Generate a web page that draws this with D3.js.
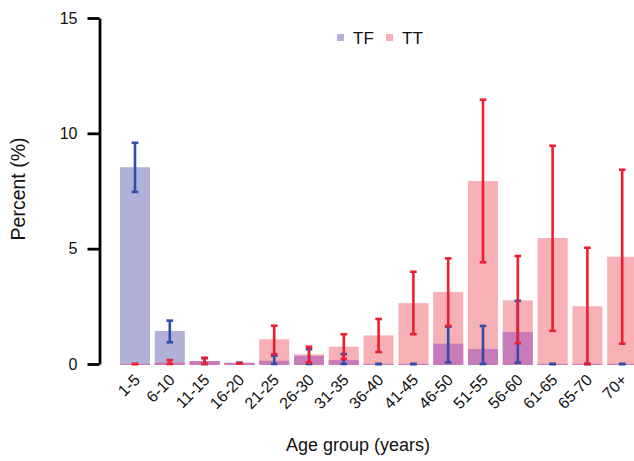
<!DOCTYPE html>
<html>
<head>
<meta charset="utf-8">
<script src="https://cdn.jsdelivr.net/npm/d3@7"></script>
<style>
  html, body { margin: 0; padding: 0; background: #fff; }
  svg { display: block; font-family: "Liberation Sans", Arial, sans-serif; }
</style>
</head>
<body>
<svg id="chart" width="634" height="461"></svg>
<script>
const categories = ["1-5","6-10","11-15","16-20","21-25","26-30","31-35","36-40","41-45","46-50","51-55","56-60","61-65","65-70","70+"];
const tfValues = [8.53, 1.43, 0.13, 0.05, 0.14, 0.35, 0.17, 0, 0, 0.88, 0.65, 1.39, 0, 0, 0];
const tfLower  = [7.46, 0.94, 0, 0.05, 0, 0, 0, 0, 0, 0.07, 0, 0.06, 0, 0, 0];
const tfUpper  = [9.59, 1.88, 0.25, 0.05, 0.36, 0.64, 0.43, 0, 0, 1.62, 1.65, 2.74, 0, 0, 0];
const ttValues = [0, 0.07, 0.13, 0.05, 1.07, 0.42, 0.75, 1.24, 2.64, 3.12, 7.93, 2.76, 5.46, 2.5, 4.65];
const ttLower  = [0, 0, 0, 0.03, 0.43, 0.07, 0.22, 0.52, 1.29, 1.65, 4.41, 0.9, 1.44, 0, 0.88];
const ttUpper  = [0, 0.17, 0.27, 0.03, 1.66, 0.75, 1.29, 1.95, 4.0, 4.58, 11.46, 4.68, 9.46, 5.04, 8.42];
const yTicks = [0, 5, 10, 15];
const seriesNames = ["TF", "TT"];

const colTF = "#b0b0d9", colTT = "#f7b0b5", colBoth = "#c77bb9";
const errTF = "#2f4ea6", errTT = "#ee1d2f";

const svg = d3.select("#chart");
const x = d3.scaleBand().domain(categories).range([117.6, 639.6]).paddingInner(0.138).paddingOuter(0.069);
const y = d3.scaleLinear().domain([0, 15]).range([364, 18]);

const rows = categories.map((c, i) => ({
  c, tf: tfValues[i], tt: ttValues[i],
  tfLo: tfLower[i], tfHi: tfUpper[i], ttLo: ttLower[i], ttHi: ttUpper[i]
}));

const bars = svg.append("g");
bars.selectAll(".tf").data(rows).join("rect")
  .attr("x", d => x(d.c)).attr("width", x.bandwidth())
  .attr("y", d => y(d.tf)).attr("height", d => y(0) - y(d.tf) + 1)
  .attr("fill", colTF);
bars.selectAll(".tt").data(rows).join("rect")
  .attr("x", d => x(d.c)).attr("width", x.bandwidth())
  .attr("y", d => y(d.tt)).attr("height", d => y(0) - y(d.tt) + 1)
  .attr("fill", colTT);
bars.selectAll(".both").data(rows).join("rect")
  .attr("x", d => x(d.c)).attr("width", x.bandwidth())
  .attr("y", d => y(Math.min(d.tf, d.tt))).attr("height", d => y(0) - y(Math.min(d.tf, d.tt)) + 1)
  .attr("fill", colBoth);

function errorBars(lo, hi, color) {
  const g = svg.append("g").attr("stroke", color).attr("stroke-width", 2.6);
  const cx = d => x(d.c) + x.bandwidth() / 2;
  g.selectAll(".v").data(rows).join("line")
    .attr("x1", cx).attr("x2", cx)
    .attr("y1", d => y(d[lo])).attr("y2", d => y(d[hi]));
  [lo, hi].forEach(k => {
    g.selectAll(".cap" + k).data(rows).join("line")
      .attr("x1", d => cx(d) - 3.3).attr("x2", d => cx(d) + 3.3)
      .attr("y1", d => y(d[k])).attr("y2", d => y(d[k]));
  });
}
errorBars("tfLo", "tfHi", errTF);
errorBars("ttLo", "ttHi", errTT);

const yAxis = svg.append("g").attr("transform", "translate(99.5,0)")
  .call(d3.axisLeft(y).tickValues(yTicks).tickSize(12).tickSizeOuter(0).tickPadding(10));
yAxis.select(".domain").attr("stroke", "#000").attr("stroke-width", 2.8);
yAxis.selectAll(".tick line").attr("stroke", "#000").attr("stroke-width", 2.8);
yAxis.selectAll(".tick text").style("font-size", "16px").attr("fill", "#111")
  .attr("font-family", "'Liberation Sans', Arial, sans-serif");

svg.append("g").selectAll("text").data(categories).join("text")
  .attr("transform", d => `translate(${x(d) + x.bandwidth() / 2 + 2},${377}) rotate(-45)`)
  .attr("text-anchor", "end").attr("dy", "0.35em")
  .style("font-size", "16px").attr("fill", "#111")
  .text(d => d);

svg.append("text").attr("transform", "translate(25,189) rotate(-90)")
  .attr("text-anchor", "middle").style("font-size", "19.5px").attr("fill", "#111")
  .text("Percent (%)");
svg.append("text").attr("x", 358).attr("y", 451)
  .attr("text-anchor", "middle").style("font-size", "18px").attr("fill", "#111")
  .text("Age group (years)");

const legend = svg.append("g");
const legX = [337, 386];
const legCol = [colTF, colTT];
seriesNames.forEach((s, i) => {
  legend.append("rect").attr("x", legX[i]).attr("y", 34).attr("width", 7).attr("height", 7).attr("fill", legCol[i]);
  legend.append("text").attr("x", legX[i] + 16).attr("y", 43.5).style("font-size", "17px").attr("fill", "#111").text(s);
});
</script>
</body>
</html>
